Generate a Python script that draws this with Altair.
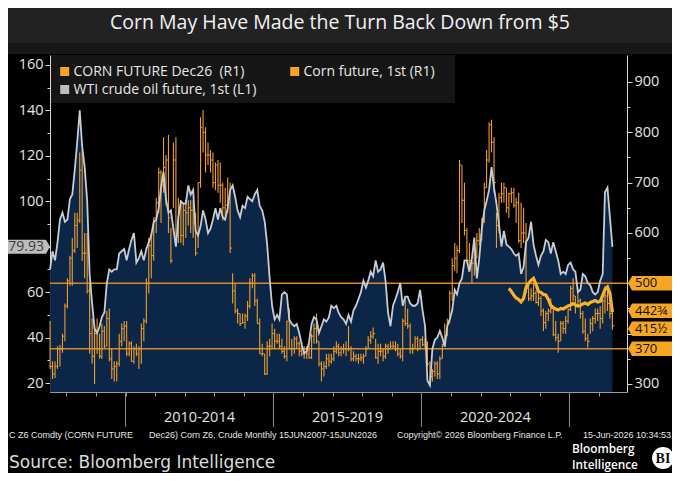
import altair as alt
import pandas as pd

# ---------------- data ----------------
# Monthly values, June 2007 .. June 2026 (229 months)
WTI = [
    70, 78, 74, 82, 92, 95, 91,                               # 2007 Jun-Dec
    92, 101, 103, 114, 126, 140, 124, 115, 100, 68, 55, 44,   # 2008
    42, 45, 49, 51, 64, 70, 69, 70, 70, 77, 78, 79,           # 2009
    74, 79, 83, 86, 73, 75, 78, 74, 79, 82, 85, 91,           # 2010
    92, 97, 106, 113, 101, 95, 96, 88, 80, 93, 100, 99,       # 2011
    99, 107, 103, 105, 87, 85, 89, 96, 92, 86, 88, 92,        # 2012
    97, 92, 97, 93, 92, 97, 105, 107, 102, 96, 93, 98,        # 2013
    97, 102, 101, 100, 103, 105, 98, 96, 91, 81, 66, 54,      # 2014
    48, 50, 48, 59, 60, 59, 48, 46, 45, 46, 42, 37,           # 2015
    33, 34, 38, 46, 49, 48, 42, 45, 48, 47, 49, 54,           # 2016
    53, 54, 51, 49, 48, 46, 50, 47, 52, 54, 57, 60,           # 2017
    65, 62, 65, 69, 67, 74, 69, 70, 73, 65, 51, 45,           # 2018
    54, 57, 60, 64, 54, 58, 58, 55, 54, 54, 55, 61,           # 2019
    52, 45, 21, 19, 35, 39, 40, 43, 40, 36, 45, 48,           # 2020
    52, 61, 59, 64, 66, 74, 74, 69, 75, 84, 66, 75,           # 2021
    88, 96, 100, 105, 115, 106, 99, 90, 80, 87, 81, 80,       # 2022
    79, 77, 76, 77, 68, 71, 82, 84, 91, 81, 76, 72,           # 2023
    76, 78, 83, 82, 77, 82, 78, 74, 68, 69, 68, 72,           # 2024
    73, 70, 69, 60, 61, 68, 67, 64, 63, 60, 59, 60,           # 2025
    65, 68, 104, 106, 93, 79.93,                              # 2026 Jan-Jun
]

CORN_HIGH = [
    425, 345, 345, 375, 378, 400, 460,
    510, 555, 590, 640, 640, 760, 765, 600, 600, 500, 430, 420,
    430, 400, 420, 415, 445, 450, 370, 345, 345, 400, 420, 425,
    425, 385, 385, 375, 380, 375, 420, 430, 510, 590, 600, 630,
    670, 730, 725, 790, 755, 795, 610, 780, 790, 670, 665, 660,
    665, 665, 665, 665, 640, 700, 830, 845, 810, 780, 765, 760,
    740, 745, 740, 700, 690, 710, 700, 520, 500, 450, 440, 440,
    440, 465, 510, 520, 520, 470, 430, 380, 360, 385, 390, 420,
    410, 400, 400, 390, 375, 425, 450, 390, 395, 395, 385, 385,
    375, 375, 380, 400, 420, 440, 385, 345, 345, 360, 360, 360,
    375, 385, 380, 375, 380, 385, 415, 375, 365, 360, 360, 360,
    360, 375, 395, 405, 412, 390, 380, 380, 370, 380, 380, 385,
    385, 385, 380, 370, 430, 470, 450, 420, 380, 395, 395, 390,
    395, 390, 385, 345, 330, 345, 345, 355, 380, 420, 430, 485,
    550, 580, 575, 745, 735, 700, 610, 580, 545, 580, 600, 610,
    630, 700, 765, 820, 825, 790, 640, 680, 700, 700, 690, 680,
    690, 690, 670, 680, 660, 650, 620, 500, 490, 500, 485, 490,
    475, 450, 445, 450, 470, 455, 425, 400, 425, 425, 435, 450,
    495, 510, 475, 490, 470, 445, 430, 400, 430, 435, 450, 450,
    455, 470, 495, 490, 475, 445,
]

CORN_LOW = [
    330, 310, 312, 330, 335, 362, 385,
    450, 495, 495, 560, 570, 620, 545, 510, 480, 360, 340, 300,
    360, 350, 350, 370, 375, 345, 310, 305, 305, 335, 375, 385,
    355, 355, 345, 340, 355, 330, 340, 385, 420, 480, 510, 545,
    600, 640, 620, 680, 655, 600, 540, 650, 590, 580, 580, 575,
    590, 615, 600, 590, 555, 570, 690, 760, 720, 735, 720, 690,
    685, 680, 660, 625, 625, 640, 560, 460, 440, 420, 415, 420,
    410, 425, 450, 490, 455, 420, 360, 355, 318, 318, 355, 370,
    370, 380, 370, 360, 350, 345, 370, 355, 360, 370, 355, 355,
    350, 350, 350, 350, 380, 380, 335, 305, 315, 330, 335, 340,
    345, 360, 355, 355, 360, 355, 365, 345, 345, 345, 340, 345,
    340, 355, 370, 380, 390, 350, 340, 355, 345, 350, 360, 370,
    370, 365, 355, 350, 345, 415, 410, 360, 360, 370, 365, 368,
    375, 372, 335, 300, 305, 315, 310, 310, 350, 375, 395, 420,
    465, 525, 520, 560, 620, 595, 540, 530, 500, 515, 550, 575,
    585, 620, 690, 740, 760, 680, 570, 600, 660, 660, 640, 630,
    660, 650, 620, 580, 570, 580, 480, 465, 465, 465, 460, 455,
    435, 405, 410, 425, 440, 395, 385, 362, 385, 400, 400, 420,
    445, 465, 440, 455, 430, 400, 385, 372, 400, 405, 420, 425,
    410, 420, 440, 445, 430, 408,
]

CORN_CLOSE = [
    335, 320, 335, 370, 370, 395, 455,
    505, 550, 565, 615, 625, 725, 560, 560, 485, 400, 355, 400,
    370, 355, 405, 375, 430, 350, 330, 335, 340, 385, 410, 415,
    360, 380, 345, 370, 360, 370, 410, 425, 500, 575, 555, 630,
    660, 720, 695, 730, 745, 630, 545, 745, 595, 645, 595, 645,
    640, 650, 645, 620, 560, 700, 810, 800, 755, 755, 745, 700,
    735, 695, 695, 650, 655, 670, 570, 485, 445, 440, 420, 422,
    435, 455, 500, 515, 465, 420, 360, 360, 320, 375, 375, 400,
    385, 385, 375, 365, 355, 425, 370, 370, 390, 380, 365, 360,
    370, 360, 352, 395, 410, 385, 340, 330, 335, 350, 345, 350,
    365, 375, 362, 370, 370, 370, 370, 350, 355, 350, 350, 352,
    355, 370, 387, 395, 400, 352, 365, 365, 355, 375, 370, 375,
    375, 370, 360, 355, 425, 420, 415, 370, 370, 390, 370, 388,
    378, 372, 340, 315, 325, 340, 320, 350, 378, 395, 425, 480,
    535, 550, 565, 735, 665, 605, 545, 545, 540, 565, 585, 595,
    625, 690, 745, 815, 780, 700, 615, 670, 678, 690, 650, 678,
    680, 655, 660, 585, 600, 600, 490, 470, 475, 480, 462, 470,
    445, 422, 440, 445, 450, 398, 392, 385, 420, 410, 425, 448,
    490, 475, 455, 465, 440, 405, 390, 385, 420, 430, 440, 440,
    430, 465, 475, 460, 440, 415.5,
]

# CORN FUTURE Dec26, monthly Dec 2022 .. Jun 2026
DEC26 = [
    490,
    484, 476, 471, 468, 463, 470, 492, 500, 506, 510, 498, 484,
    482, 478, 477, 468, 456, 452, 449, 447, 450, 449, 452, 455,
    457, 460, 457, 455, 456, 459, 461, 458, 462, 464, 466, 463,
    464, 476, 488, 493, 480, 442.75,
]

LEVELS = [500, 370]
RIGHT_LABEL_VALUES = [500, 370, 415.5, 442.75]
RIGHT_LABEL_TEXTS = ["500", "370", "415\u00bd", "442\u00be"]
RIGHT_LABEL_NUDGE = [0, 0, 3, -1.5]
WTI_LAST = 79.93
PERIOD_LABELS = ["2010-2014", "2015-2019", "2020-2024"]
PERIOD_MIDS = ["2012-07-02", "2017-07-02", "2022-07-02"]
PERIOD_BOUNDS = ["2010-01-01", "2015-01-01", "2020-01-01", "2025-01-01"]
LEGEND_ITEMS = ["CORN FUTURE Dec26\u00a0 (R1)", "Corn future, 1st (R1)",
                "WTI crude oil future, 1st (L1)"]


def month_dates(y0, m0, n):
    out, y, m = [], y0, m0
    for _ in range(n):
        out.append(f"{y}-{m:02d}-15")
        m += 1
        if m > 12:
            m, y = 1, y + 1
    return out


DATES = month_dates(2007, 6, len(WTI))
DEC_DATES = month_dates(2022, 12, len(DEC26))

wti_df = pd.DataFrame({"date": DATES, "wti": WTI})
corn_df = pd.DataFrame({"date": DATES, "high": CORN_HIGH, "low": CORN_LOW, "close": CORN_CLOSE})
dec_df = pd.DataFrame({"date": DEC_DATES, "dec26": DEC26})
lev_df = pd.DataFrame({"level": LEVELS})
bounds_df = pd.DataFrame({"d": PERIOD_BOUNDS})
period_df = pd.DataFrame({"d": PERIOD_MIDS, "t": PERIOD_LABELS})

# ---------------- styling ----------------
W, H = 577, 337
SANS = "Open Sans"
ORANGE = "#f09e2c"
LEVEL_ORANGE = "#d5892b"
BOX_ORANGE = "#f6a623"
NAVY = "#0b2646"
WTI_LINE = "#c8ccd3"
AXIS_TXT = "#e4e4e4"
L_MIN, L_MAX = 16.04, 164.4
R_MIN, R_MAX = 284.1, 953.6

X_SCALE = alt.Scale(domain=[alt.DateTime(year=2007, month=6, date=14),
                            alt.DateTime(year=2026, month=12, date=12)])
X_AXIS = alt.Axis(values=[alt.DateTime(year=y, month=1, date=1) for y in range(2008, 2027)],
                  labels=False, ticks=True, tickSize=4, tickColor="#9a9a9a",
                  domainColor="#9a9a9a", grid=False, title=None)
L_SCALE = alt.Scale(domain=[L_MIN, L_MAX], nice=False, zero=False)
R_SCALE = alt.Scale(domain=[R_MIN, R_MAX], nice=False, zero=False)

# labels hidden under the value tags (80 on the left, 400/500 on the right) are left blank
L_AXIS = alt.Axis(orient="left", values=list(range(20, 161, 10)),
                  labelExpr="(datum.value % 20 === 0 && datum.value !== 80) ? datum.label : ''",
                  tickSize={"condition": {"test": "datum.value % 20 === 0", "value": 5}, "value": 3},
                  tickColor="#d8d8d8", domainColor="#d8d8d8", labelColor=AXIS_TXT,
                  labelFont=SANS, labelFontSize=14.5, labelPadding=2, grid=False, title=None)
R_AXIS = alt.Axis(orient="right", values=list(range(300, 901, 50)),
                  labelExpr="(datum.value % 100 === 0 && datum.value !== 400 && datum.value !== 500) ? datum.label : ''",
                  tickSize={"condition": {"test": "datum.value % 100 === 0", "value": 5}, "value": 3},
                  tickColor="#d8d8d8", domainColor="#d8d8d8", labelColor=AXIS_TXT,
                  labelFont=SANS, labelFontSize=14.5, labelPadding=2, grid=False, title=None)

X = alt.X("date:T", scale=X_SCALE, axis=X_AXIS)


def one(**kw):
    return alt.Chart(pd.DataFrame({"t": [kw.pop("text", "")]}))


def deco_rect(x0, x1, y0, y1, color):
    return one().mark_rect(color=color).encode(
        x=alt.value(x0), x2=alt.value(x1), y=alt.value(y0), y2=alt.value(y1))


def deco_text(text, x, y, size, color, font=SANS, align="left", baseline="middle",
              weight="normal", **extra):
    return one(text=text).mark_text(align=align, baseline=baseline, fontSize=size, color=color,
                                    font=font, fontWeight=weight, **extra).encode(
        x=alt.value(x), y=alt.value(y), text="t:N")


def deco_square(x, y, color, size=81):
    return one().mark_square(size=size, color=color, opacity=1).encode(
        x=alt.value(x), y=alt.value(y))


RIGHT_BOX = "M -1 0 L -0.84 -0.29 L 1 -0.29 L 1 0.29 L -0.84 0.29 Z"
LEFT_BOX = "M 1 0 L 0.84 -0.28 L -1 -0.28 L -1 0.28 L 0.84 0.28 Z"

# ---------------- background / frame ----------------
bg_layers = [
    deco_rect(-42, 622, -47, -12, "#222222"),
    deco_rect(-42, 622, -12, -1, "#171717"),
    deco_rect(1, 405, 0, 48, "#161616"),
]

# ---------------- group A: WTI area (left axis) ----------------
area = alt.Chart(wti_df).mark_area(color=NAVY, opacity=1, clip=True).encode(
    x=X, y=alt.Y("wti:Q", scale=L_SCALE, axis=L_AXIS, stack=None), y2=alt.datum(L_MIN))

# ---------------- group B: corn bars + levels (right axis) ----------------
levels = alt.Chart(lev_df).mark_rule(color=LEVEL_ORANGE, strokeWidth=1.5).encode(
    y=alt.Y("level:Q", scale=R_SCALE, axis=R_AXIS))
bars = alt.Chart(corn_df).mark_rule(color=ORANGE, strokeWidth=1.1).encode(
    x=X, y=alt.Y("low:Q", scale=R_SCALE, axis=R_AXIS), y2="high:Q")
closes = alt.Chart(corn_df).mark_rule(color=ORANGE, strokeWidth=1, x2Offset=2).encode(
    x=X, x2="date:T", y=alt.Y("close:Q", scale=R_SCALE, axis=R_AXIS))
group_b = alt.layer(levels, bars, closes)

# ---------------- group C: WTI line + last-value tag (left scale) ----------------
wti_line = alt.Chart(wti_df).mark_line(color=WTI_LINE, strokeWidth=1.8).encode(
    x=X, y=alt.Y("wti:Q", scale=L_SCALE, axis=None))
last_df = pd.DataFrame({"v": [WTI_LAST], "lab": [f"{WTI_LAST:.2f}"]})
wti_tag = alt.Chart(last_df).mark_point(shape=LEFT_BOX, filled=True, fill="#bdbdbd",
                                       strokeWidth=0, size=2500, opacity=1).encode(
    x=alt.value(-25), y=alt.Y("v:Q", scale=L_SCALE, axis=None))
wti_tag_txt = alt.Chart(last_df).mark_text(align="right", baseline="middle", fontSize=14,
                                          font=SANS, color="#3c3c3c").encode(
    x=alt.value(-6), y=alt.Y("v:Q", scale=L_SCALE, axis=None), text="lab:N")
group_c = alt.layer(wti_line, wti_tag, wti_tag_txt)

# ---------------- group D: Dec26 line + right tags (right scale) ----------------
dec_line = alt.Chart(dec_df).mark_line(color="#f7b12a", strokeWidth=3.2).encode(
    x=X, y=alt.Y("dec26:Q", scale=R_SCALE, axis=None))
tag_layers = [dec_line]
for v, lab, nudge in zip(RIGHT_LABEL_VALUES, RIGHT_LABEL_TEXTS, RIGHT_LABEL_NUDGE):
    d = pd.DataFrame({"v": [v], "lab": [lab]})
    tag_layers.append(alt.Chart(d).mark_point(shape=RIGHT_BOX, filled=True, fill=BOX_ORANGE,
                                              strokeWidth=0, size=2500, opacity=1,
                                              yOffset=nudge).encode(
        x=alt.value(603), y=alt.Y("v:Q", scale=R_SCALE, axis=None)))
    tag_layers.append(alt.Chart(d).mark_text(align="left", baseline="middle", fontSize=13,
                                             font=SANS, color="#111111", dy=nudge).encode(
        x=alt.value(585), y=alt.Y("v:Q", scale=R_SCALE, axis=None), text="lab:N"))
group_d = alt.layer(*tag_layers)

# ---------------- x-axis period marks ----------------
long_ticks = alt.Chart(bounds_df).mark_rule(color="#8c8c8c", strokeWidth=1).encode(
    x=alt.X("d:T", scale=X_SCALE, axis=X_AXIS), y=alt.value(H), y2=alt.value(H + 35))
period_txt = alt.Chart(period_df).mark_text(fontSize=14.5, font=SANS, color=AXIS_TXT,
                                            baseline="middle").encode(
    x=alt.X("d:T", scale=X_SCALE, axis=X_AXIS), y=alt.value(H + 26), text="t:N")

# ---------------- texts: title, legend, footer, logo ----------------
deco = [
    deco_text("Corn May Have Made the Turn Back Down from $5", 290, -26, 19.5, "#f2f2f2",
              align="center", baseline="alphabetic"),
    deco_square(14.7, 16.5, BOX_ORANGE),
    deco_text(LEGEND_ITEMS[0], 23.5, 17, 14, "#e8e8e8"),
    deco_square(244.7, 16.5, BOX_ORANGE),
    deco_text(LEGEND_ITEMS[1], 253.5, 17, 14, "#e8e8e8"),
    deco_square(14.7, 34.5, "#bdbdbd"),
    deco_text(LEGEND_ITEMS[2], 23.5, 35, 14, "#e8e8e8"),
    deco_text("C Z6 Comdty (CORN FUTURE", -41, 380, 9, "#e6e6e6", font="Liberation Sans"),
    deco_text("Dec26) Corn Z6, Crude Monthly 15JUN2007-15JUN2026", 99, 380, 9, "#e6e6e6",
              font="Liberation Sans"),
    deco_text("Copyright\u00a9 2026 Bloomberg Finance L.P.", 347, 380, 9, "#e6e6e6",
              font="Liberation Sans"),
    deco_text("15-Jun-2026 10:34:53", 621, 380, 9, "#e6e6e6", font="Liberation Sans",
              align="right"),
    deco_text("Source: Bloomberg Intelligence", -41, 413, 17, "#dcdcdc", font="DejaVu Sans",
              baseline="alphabetic"),
    deco_text("Bloomberg", 522, 398, 11.8, "#ffffff", weight=600, baseline="alphabetic"),
    deco_text("Intelligence", 522, 414, 11.8, "#ffffff", weight=600, baseline="alphabetic"),
    one().mark_circle(size=480, color="#ffffff", opacity=1).encode(
        x=alt.value(613), y=alt.value(403)),
    deco_text("BI", 613, 404, 14, "#111111", font="Liberation Serif", align="center",
              weight="bold"),
]

chart = alt.layer(
    *bg_layers, area, group_b, group_c, group_d, long_ticks, period_txt, *deco
).resolve_scale(y="independent").properties(
    width=W, height=H,
    padding={"left": 42, "top": 47, "right": 45, "bottom": 81},
    autosize=alt.AutoSizeParams(type="none"),
    background="#000000",
).configure_view(stroke=None)

chart.save("out.html", embed_options={"renderer": "svg", "actions": False})
